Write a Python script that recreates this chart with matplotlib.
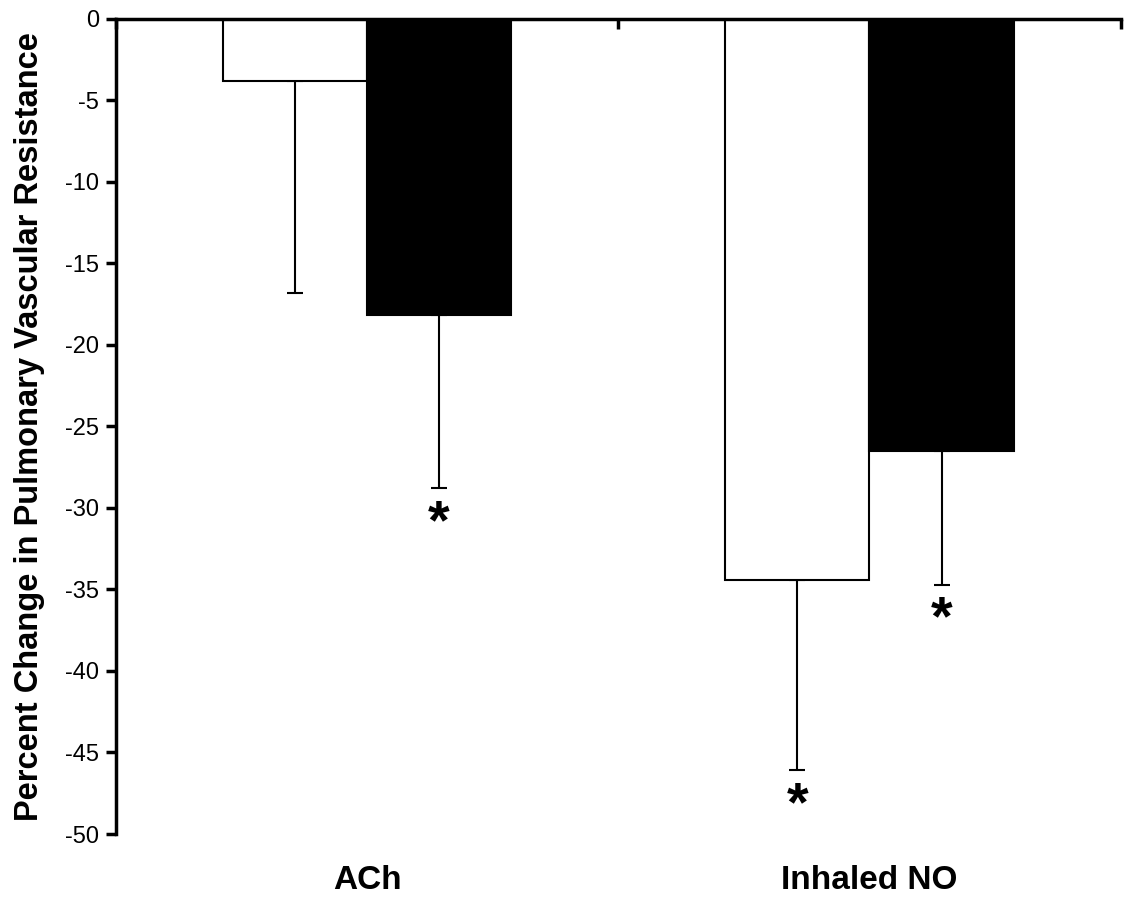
import matplotlib.pyplot as plt

plt.rcParams['font.family'] = ['Liberation Sans', 'DejaVu Sans']
plt.rcParams['axes.unicode_minus'] = False

# data
categories = ['ACh', 'Inhaled NO']
white_means = [-3.8, -34.4]
white_errs = [13.0, 11.7]
black_means = [-18.2, -26.5]
black_errs = [10.6, 8.2]
white_sig = [False, True]
black_sig = [True, True]

fig = plt.figure(figsize=(11.24, 8.97), dpi=100)
ax = fig.add_axes([0.103, 0.0702, 0.894, 0.909])

centers = [0.5, 1.5]
w = 0.287
xw = [c - w / 2 for c in centers]
xb = [c + w / 2 for c in centers]

ax.bar(xw, white_means, width=w, color='white', edgecolor='black', linewidth=1.5, zorder=2)
ax.bar(xb, black_means, width=w, color='black', edgecolor='black', linewidth=1.5, zorder=2)

for xs, means, errs in [(xw, white_means, white_errs), (xb, black_means, black_errs)]:
    ax.errorbar(xs, means, yerr=[errs, [0] * len(errs)], fmt='none', ecolor='black',
                elinewidth=1.5, capsize=5.5, capthick=1.5, zorder=1)

# significance stars
for xs, means, errs, sig in [(xw, white_means, white_errs, white_sig),
                              (xb, black_means, black_errs, black_sig)]:
    for x, m, e, s in zip(xs, means, errs, sig):
        if s:
            ax.text(x, m - e - 0.6, '*', ha='center', va='top', fontsize=40, fontweight='bold')

ax.set_xlim(0, 2)
ax.set_ylim(-50, 0)
ax.set_yticks(range(-50, 1, 5))
ax.tick_params(axis='y', labelsize=17, width=2.5, length=7, direction='out', pad=5)

ax.spines['right'].set_visible(False)
ax.spines['bottom'].set_visible(False)
ax.spines['left'].set_linewidth(2.5)
ax.spines['top'].set_linewidth(2.5)

ax.set_xticks(centers)
ax.set_xticklabels(categories, fontsize=24, fontweight='bold')
ax.tick_params(axis='x', which='major', length=0, pad=22)
ax.set_xticks([0, 1, 2], minor=True)
ax.tick_params(axis='x', which='minor', top=True, bottom=False, direction='in',
               length=7, width=2.5)

ax.set_ylabel('Percent Change in Pulmonary Vascular Resistance', fontsize=23.5,
              fontweight='bold')
ax.yaxis.set_label_coords(-0.0705, 0.5)

fig.savefig('out.png', dpi=100)
